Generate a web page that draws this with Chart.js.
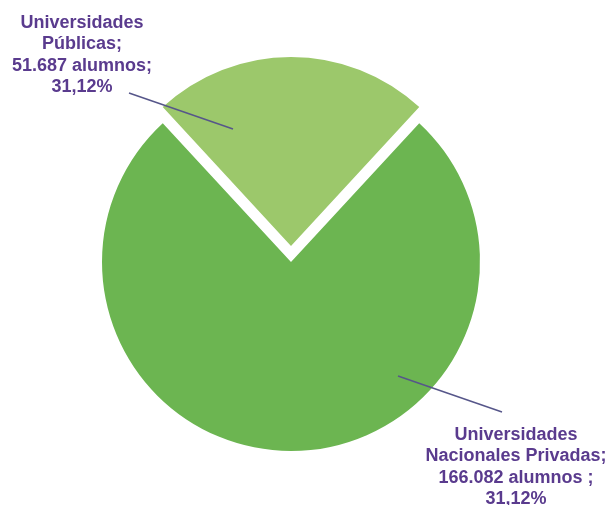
<!doctype html>
<html>

<head>
  <meta charset="utf-8">
  <script src="https://cdn.jsdelivr.net/npm/chart.js@4/dist/chart.umd.min.js"></script>
  <style>
    body { margin: 0; background: #fff; }
  </style>
</head>

<body>
  <canvas id="canvas" width="612" height="505"></canvas>
  <script>
    const categories = ['Universidades Públicas', 'Universidades Nacionales Privadas'];
    const alumnos = [51687, 166082];
    const labelLines = [
      ['Universidades', 'Públicas;', '51.687 alumnos;', '31,12%'],
      ['Universidades', 'Nacionales Privadas;', '166.082 alumnos ;', '31,12%']
    ];

    // where each label block sits and where its leader line points
    const labelPos = [
      { x: 82, y: 23, from: [129, 93], to: [233, 129] },
      { x: 516, y: 435, from: [502, 412], to: [398, 376] }
    ];

    const purple = '#5a3b8e';
    const smallShare = alumnos[0] / (alumnos[0] + alumnos[1]) * 360;

    const pieLabels = {
      id: 'pieLabels',
      afterDatasetsDraw(chart) {
        const ctx = chart.ctx;
        ctx.save();
        labelPos.forEach((p, i) => {
          ctx.strokeStyle = '#56568a';
          ctx.lineWidth = 1.5;
          ctx.beginPath();
          ctx.moveTo(p.from[0], p.from[1]);
          ctx.lineTo(p.to[0], p.to[1]);
          ctx.stroke();
          ctx.fillStyle = purple;
          ctx.font = 'bold 18px "Liberation Sans", Arial, sans-serif';
          ctx.textAlign = 'center';
          ctx.textBaseline = 'middle';
          labelLines[i].forEach((t, k) => {
            ctx.fillText(t, p.x, p.y + k * 21.5);
          });
        });
        ctx.restore();
      }
    };

    new Chart(document.getElementById('canvas').getContext('2d'), {
      type: 'pie',
      data: {
        labels: categories,
        datasets: [{
          data: alumnos,
          backgroundColor: ['#9cc86b', '#6cb551'],
          borderWidth: 0,
          // arc offset is divided by 4 when drawn, so 64 -> 16px
          offset: [64, 0]
        }]
      },
      options: {
        responsive: false,
        animation: false,
        rotation: -smallShare / 2,
        radius: 189,
        layout: {
          padding: { left: 60, right: 90, top: 59, bottom: 40 }
        },
        plugins: {
          legend: { display: false },
          tooltip: { enabled: false }
        }
      },
      plugins: [pieLabels]
    });
  </script>
</body>

</html>
